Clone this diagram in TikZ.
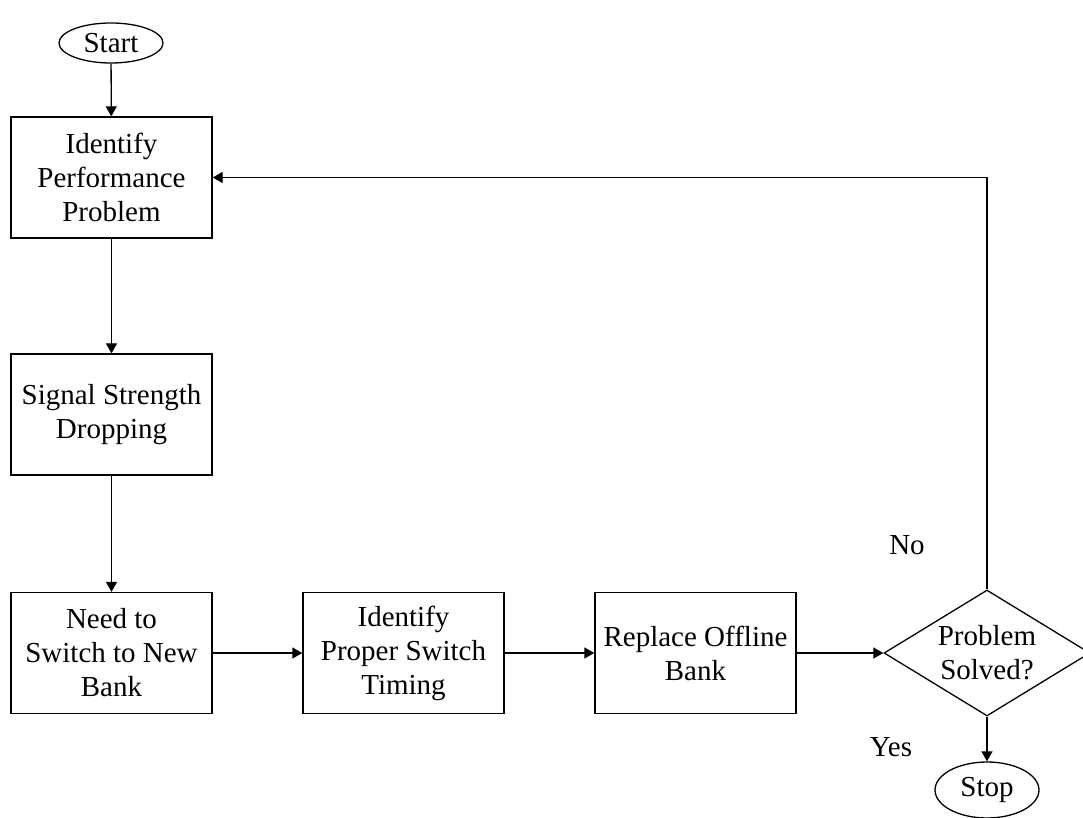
\documentclass[tikz,border=0pt]{standalone}
\usepackage{fontspec}
\setmainfont{Liberation Serif}
\usetikzlibrary{shapes.geometric,arrows.meta}

\begin{document}
\begin{tikzpicture}[x=0.5pt,y=-0.5pt,line width=0.65pt,
  font=\fontsize{14.5}{17}\selectfont,
  box/.style={draw,rectangle,minimum width=100.5pt,minimum height=60.5pt,align=center,inner sep=0pt},
  term/.style={draw,ellipse,inner sep=0pt,align=center},
  test/.style={draw,diamond,shape aspect=1.63,minimum width=103pt,minimum height=63pt,inner sep=0pt,align=center},
  link/.style={-{Triangle[length=5pt,width=5.5pt]}}]
\useasboundingbox (0,0) rectangle (1083,818);
\node [term,minimum width=52pt,minimum height=20pt] (start) at (111,43) {Start};
\node [box] (ident) at (111.5,177.5) {Identify\\Performance\\Problem};
\node [box] (signal) at (111.5,414.5) {Signal Strength\\Dropping};
\node [box] (need) at (111.5,653) {Need to\\Switch to New\\Bank};
\node [box] (timing) at (403.5,653) {Identify\\Proper Switch\\Timing};
\node [box] (replace) at (695.5,653) {Replace Offline\\Bank};
\node [test] (solved) at (987,653) {Problem\\Solved?};
\node [term,minimum width=52pt,minimum height=28pt] (stop) at (987,790) {Stop};
\node (no) at (907,545) {No};
\node (yes) at (891,747) {Yes};
\draw [link] (start) -- (ident);
\draw [link] (ident) -- (signal);
\draw [link] (signal) -- (need);
\draw [link] (need) -- (timing);
\draw [link] (timing) -- (replace);
\draw [link] (replace) -- (solved);
\draw [link] (solved) -- (stop);
\draw [link] (solved.north) |- (ident.east);
\end{tikzpicture}
\end{document}
